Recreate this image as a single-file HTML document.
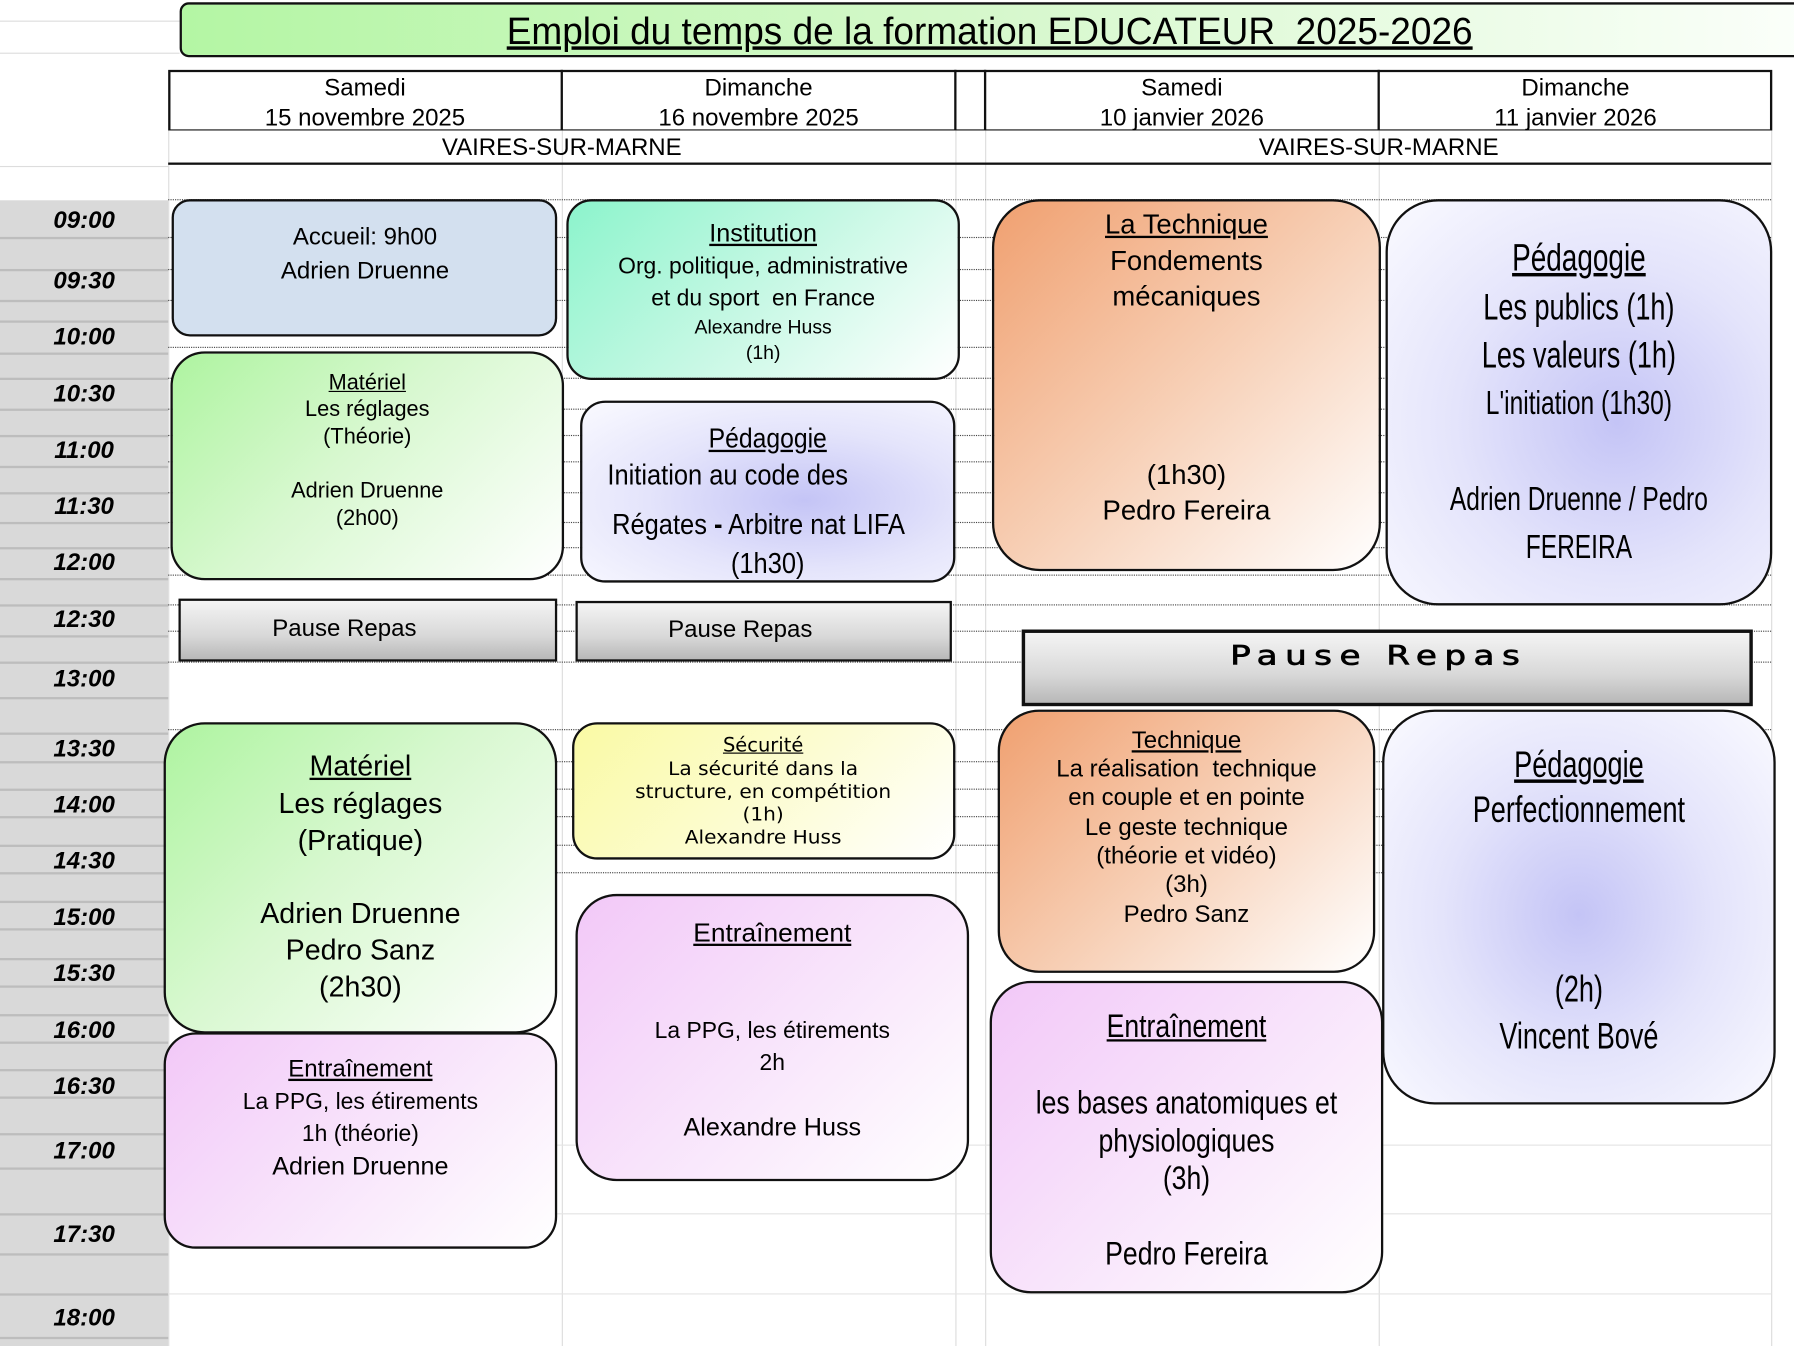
<!DOCTYPE html>
<html><head><meta charset="utf-8">
<style>
html,body{margin:0;padding:0;width:1794px;height:1346px;overflow:hidden;background:#fff;}
#w{position:absolute;left:0;top:0;width:1568px;height:1176px;transform:scale(1.14413,1.14456);transform-origin:0 0;font-family:"Liberation Sans",sans-serif;color:#000;}
.a{position:absolute;}
.b{position:absolute;border:2px solid #111;box-sizing:border-box;}
.t{position:absolute;white-space:nowrap;transform:translate(-50%,-50%);line-height:1;}
.n{transform:translate(-50%,-50%) scaleX(0.8);}
.n4{transform:translate(-50%,-50%) scaleX(0.74);}
.n3{transform:translate(-50%,-50%) scaleX(0.83);}
.n2{transform:translate(-50%,-50%) scaleX(0.89);}
.u{text-decoration:underline;}
.tm{position:absolute;left:0;width:147px;text-align:center;font-weight:bold;font-style:italic;font-size:21px;transform:translateY(-50%);}
.hl{position:absolute;left:0;width:147px;height:2px;background:#bdbdbd;}
.dl{position:absolute;left:147px;width:1401px;border-top:1px dotted #444;}
.vl{position:absolute;top:62px;width:1px;background:#ddd;height:1114px;}
.green{background:linear-gradient(135deg,#aef4a0 0%,#d8f8d0 45%,#fff 100%);}
.purple{background:linear-gradient(135deg,#f2c8f8 0%,#f8e4fb 50%,#fff 100%);}
.orange{background:linear-gradient(135deg,#f0a070 0%,#f7cfb5 50%,#fff 100%);}
.lav{background:radial-gradient(ellipse at 60% 55%,#c4c4f6 0%,#e4e4fb 50%,#fafaff 100%);}
.gray{background:linear-gradient(180deg,#f4f4f4 0%,#d8d8d8 60%,#b8b8b8 100%);}
</style></head><body><div id="w">

<div class="a" style="left:0;top:175px;width:147px;height:1001px;background:#d9d9d9"></div>
<div class="vl" style="left:147px"></div><div class="vl" style="left:491px"></div><div class="vl" style="left:835px"></div><div class="vl" style="left:861px"></div><div class="vl" style="left:1205px"></div><div class="vl" style="left:1548px"></div>
<div class="a" style="left:0;top:18px;width:157px;height:1px;background:#ddd"></div>
<div class="a" style="left:0;top:46px;width:157px;height:1px;background:#ddd"></div>
<div class="a" style="left:0;top:145px;width:147px;height:1px;background:#ddd"></div>

<div class="hl" style="top:207px"></div><div class="hl" style="top:235px"></div><div class="hl" style="top:262px"></div><div class="hl" style="top:280px"></div><div class="hl" style="top:308px"></div><div class="hl" style="top:330px"></div><div class="hl" style="top:357px"></div><div class="hl" style="top:380px"></div><div class="hl" style="top:407px"></div><div class="hl" style="top:430px"></div><div class="hl" style="top:456px"></div><div class="hl" style="top:478px"></div><div class="hl" style="top:505px"></div><div class="hl" style="top:528px"></div><div class="hl" style="top:555px"></div><div class="hl" style="top:578px"></div><div class="hl" style="top:609px"></div><div class="hl" style="top:640px"></div><div class="hl" style="top:665px"></div><div class="hl" style="top:689px"></div><div class="hl" style="top:713px"></div><div class="hl" style="top:738px"></div><div class="hl" style="top:762px"></div><div class="hl" style="top:787px"></div><div class="hl" style="top:811px"></div><div class="hl" style="top:837px"></div><div class="hl" style="top:861px"></div><div class="hl" style="top:886px"></div><div class="hl" style="top:910px"></div><div class="hl" style="top:934px"></div><div class="hl" style="top:958px"></div><div class="hl" style="top:990px"></div><div class="hl" style="top:1020px"></div><div class="hl" style="top:1060px"></div><div class="hl" style="top:1095px"></div><div class="hl" style="top:1130px"></div><div class="hl" style="top:1168px"></div>

<div class="dl" style="top:174px"></div><div class="dl" style="top:207px"></div><div class="dl" style="top:235px"></div><div class="dl" style="top:262px"></div><div class="dl" style="top:303px"></div><div class="dl" style="top:330px"></div><div class="dl" style="top:357px"></div><div class="dl" style="top:380px"></div><div class="dl" style="top:403px"></div><div class="dl" style="top:430px"></div><div class="dl" style="top:456px"></div><div class="dl" style="top:478px"></div><div class="dl" style="top:502px"></div><div class="dl" style="top:528px"></div><div class="dl" style="top:551px"></div><div class="dl" style="top:578px"></div><div class="dl" style="top:637px"></div><div class="dl" style="top:665px"></div><div class="dl" style="top:689px"></div><div class="dl" style="top:713px"></div><div class="dl" style="top:738px"></div><div class="dl" style="top:762px"></div>
<div class="a" style="left:147px;top:1000px;width:1401px;height:1px;background:#e4e4e4"></div>
<div class="a" style="left:147px;top:1060px;width:1401px;height:1px;background:#e4e4e4"></div>
<div class="a" style="left:147px;top:1130px;width:1401px;height:1px;background:#e4e4e4"></div>

<div class="tm" style="top:193px">09:00</div><div class="tm" style="top:246px">09:30</div><div class="tm" style="top:295px">10:00</div><div class="tm" style="top:345px">10:30</div><div class="tm" style="top:394px">11:00</div><div class="tm" style="top:443px">11:30</div><div class="tm" style="top:492px">12:00</div><div class="tm" style="top:542px">12:30</div><div class="tm" style="top:594px">13:00</div><div class="tm" style="top:655px">13:30</div><div class="tm" style="top:704px">14:00</div><div class="tm" style="top:753px">14:30</div><div class="tm" style="top:802px">15:00</div><div class="tm" style="top:851px">15:30</div><div class="tm" style="top:901px">16:00</div><div class="tm" style="top:950px">16:30</div><div class="tm" style="top:1006px">17:00</div><div class="tm" style="top:1079px">17:30</div><div class="tm" style="top:1152px">18:00</div>

<div class="a" style="left:157px;top:2px;width:1420px;height:48px;border:2px solid #111;border-radius:8px 0 0 8px;box-sizing:border-box;background:linear-gradient(90deg,#b4f6a4 0%,#d6f8cc 50%,#fbfffa 100%)"></div>
<div class="t u" style="left:865px;top:27px;font-size:33px;transform:translate(-50%,-50%) scaleX(0.98)">Emploi du temps de la formation EDUCATEUR&nbsp; 2025-2026</div>

<div class="a" style="left:147px;top:61px;width:1402px;height:53px;border:2px solid #111;box-sizing:border-box;border-bottom-width:1px"></div>
<div class="a" style="left:490px;top:61px;width:2px;height:53px;background:#111"></div>
<div class="a" style="left:834px;top:61px;width:2px;height:53px;background:#111"></div>
<div class="a" style="left:860px;top:61px;width:2px;height:53px;background:#111"></div>
<div class="a" style="left:1204px;top:61px;width:2px;height:53px;background:#111"></div>
<div class="a" style="left:147px;top:142px;width:1401px;height:2px;background:#111"></div>
<div class="t" style="left:319px;top:77px;font-size:21px">Samedi</div><div class="t" style="left:319px;top:103px;font-size:21px">15 novembre 2025</div>
<div class="t" style="left:663px;top:77px;font-size:21px">Dimanche</div><div class="t" style="left:663px;top:103px;font-size:21px">16 novembre 2025</div>
<div class="t" style="left:1033px;top:77px;font-size:21px">Samedi</div><div class="t" style="left:1033px;top:103px;font-size:21px">10 janvier 2026</div>
<div class="t" style="left:1377px;top:77px;font-size:21px">Dimanche</div><div class="t" style="left:1377px;top:103px;font-size:21px">11 janvier 2026</div>
<div class="t" style="left:491px;top:129px;font-size:21px">VAIRES-SUR-MARNE</div>
<div class="t" style="left:1205px;top:129px;font-size:21px">VAIRES-SUR-MARNE</div>

<div class="b" style="left:150px;top:174px;width:337px;height:120px;border-radius:16px;background:#d3e0ef"></div>
<div class="t" style="left:319px;top:207px;font-size:21px">Accueil: 9h00</div>
<div class="t" style="left:319px;top:237px;font-size:21px">Adrien Druenne</div>

<div class="b green" style="left:149px;top:307px;width:344px;height:200px;border-radius:30px"></div>
<div class="t u" style="left:321px;top:335px;font-size:19px">Matériel</div>
<div class="t" style="left:321px;top:358px;font-size:19px">Les réglages</div>
<div class="t" style="left:321px;top:382px;font-size:19px">(Théorie)</div>
<div class="t" style="left:321px;top:429px;font-size:19px">Adrien Druenne</div>
<div class="t" style="left:321px;top:453px;font-size:19px">(2h00)</div>

<div class="b gray" style="left:156px;top:523px;width:331px;height:55px"></div>
<div class="t" style="left:301px;top:549px;font-size:21px">Pause Repas</div>

<div class="b green" style="left:143px;top:631px;width:344px;height:272px;border-radius:36px"></div>
<div class="t u" style="left:315px;top:670px;font-size:25px">Matériel</div>
<div class="t" style="left:315px;top:703px;font-size:25px">Les réglages</div>
<div class="t" style="left:315px;top:735px;font-size:25px">(Pratique)</div>
<div class="t" style="left:315px;top:799px;font-size:25px">Adrien Druenne</div>
<div class="t" style="left:315px;top:831px;font-size:25px">Pedro Sanz</div>
<div class="t" style="left:315px;top:863px;font-size:25px">(2h30)</div>

<div class="b purple" style="left:143px;top:902px;width:344px;height:189px;border-radius:28px"></div>
<div class="t u" style="left:315px;top:934px;font-size:21px">Entraînement</div>
<div class="t" style="left:315px;top:963px;font-size:20px">La PPG, les étirements</div>
<div class="t" style="left:315px;top:991px;font-size:20px">1h (théorie)</div>
<div class="t" style="left:315px;top:1019px;font-size:22px">Adrien Druenne</div>

<div class="b" style="left:495px;top:174px;width:344px;height:158px;border-radius:22px;background:linear-gradient(135deg,#8cf4cc 0%,#c6f8e4 50%,#fff 100%)"></div>
<div class="t u" style="left:667px;top:204px;font-size:22px">Institution</div>
<div class="t" style="left:667px;top:233px;font-size:20px">Org. politique, administrative</div>
<div class="t" style="left:667px;top:261px;font-size:20px">et du sport&nbsp; en France</div>
<div class="t" style="left:667px;top:286px;font-size:17px">Alexandre Huss</div>
<div class="t" style="left:667px;top:308px;font-size:17px">(1h)</div>

<div class="b lav" style="left:507px;top:350px;width:328px;height:159px;border-radius:22px"></div>
<div class="t u" style="left:671px;top:384px;font-size:24px;transform:translate(-50%,-50%) scaleX(0.9)">Pédagogie</div>
<div class="t n2" style="left:636px;top:416px;font-size:25px">Initiation au code des</div>
<div class="t n2" style="left:663px;top:459px;font-size:25px">Régates <b>-</b> Arbitre nat LIFA</div>
<div class="t n2" style="left:671px;top:493px;font-size:25px">(1h30)</div>

<div class="b gray" style="left:503px;top:525px;width:329px;height:53px"></div>
<div class="t" style="left:647px;top:550px;font-size:21px">Pause Repas</div>

<div class="b" style="left:500px;top:631px;width:335px;height:120px;border-radius:22px;background:linear-gradient(135deg,#fafaa4 0%,#fcfcd0 50%,#fff 100%)"></div>
<div class="t u" style="left:667px;top:652px;font-size:17px;font-family:'DejaVu Sans',sans-serif">Sécurité</div>
<div class="t" style="left:667px;top:672px;font-size:16px;font-family:'DejaVu Sans',sans-serif;transform:translate(-50%,-50%) scaleX(1.1)">La sécurité dans la</div>
<div class="t" style="left:667px;top:692px;font-size:16px;font-family:'DejaVu Sans',sans-serif;transform:translate(-50%,-50%) scaleX(1.1)">structure, en compétition</div>
<div class="t" style="left:667px;top:712px;font-size:16px;font-family:'DejaVu Sans',sans-serif;transform:translate(-50%,-50%) scaleX(1.1)">(1h)</div>
<div class="t" style="left:667px;top:732px;font-size:16px;font-family:'DejaVu Sans',sans-serif;transform:translate(-50%,-50%) scaleX(1.1)">Alexandre Huss</div>

<div class="b purple" style="left:503px;top:781px;width:344px;height:251px;border-radius:36px"></div>
<div class="t u" style="left:675px;top:815px;font-size:23px">Entraînement</div>
<div class="t" style="left:675px;top:901px;font-size:20px">La PPG, les étirements</div>
<div class="t" style="left:675px;top:929px;font-size:20px">2h</div>
<div class="t" style="left:675px;top:985px;font-size:22px">Alexandre Huss</div>

<div class="b orange" style="left:867px;top:174px;width:340px;height:325px;border-radius:42px"></div>
<div class="t u" style="left:1037px;top:197px;font-size:24px">La Technique</div>
<div class="t" style="left:1037px;top:229px;font-size:24px">Fondements</div>
<div class="t" style="left:1037px;top:260px;font-size:24px">mécaniques</div>
<div class="t" style="left:1037px;top:416px;font-size:24px">(1h30)</div>
<div class="t" style="left:1037px;top:447px;font-size:24px">Pedro Fereira</div>

<div class="b gray" style="left:893px;top:550px;width:639px;height:67px;border-width:3px"></div>
<div class="t" style="left:1205px;top:574px;font-size:23px;letter-spacing:5px;font-family:'DejaVu Sans',sans-serif;-webkit-text-stroke:0.6px #000;transform:translate(-50%,-50%) scaleX(1.3)">Pause Repas</div>

<div class="b orange" style="left:872px;top:620px;width:330px;height:230px;border-radius:36px"></div>
<div class="t u" style="left:1037px;top:647px;font-size:21px">Technique</div>
<div class="t" style="left:1037px;top:672px;font-size:21px">La réalisation&nbsp; technique</div>
<div class="t" style="left:1037px;top:697px;font-size:21px">en couple et en pointe</div>
<div class="t" style="left:1037px;top:723px;font-size:21px">Le geste technique</div>
<div class="t" style="left:1037px;top:748px;font-size:21px">(théorie et vidéo)</div>
<div class="t" style="left:1037px;top:773px;font-size:21px">(3h)</div>
<div class="t" style="left:1037px;top:799px;font-size:21px">Pedro Sanz</div>

<div class="b purple" style="left:865px;top:857px;width:344px;height:273px;border-radius:36px"></div>
<div class="t u n3" style="left:1037px;top:897px;font-size:28px">Entraînement</div>
<div class="t n3" style="left:1037px;top:964px;font-size:28px">les bases anatomiques et</div>
<div class="t n3" style="left:1037px;top:997px;font-size:28px">physiologiques</div>
<div class="t n3" style="left:1037px;top:1030px;font-size:28px">(3h)</div>
<div class="t n3" style="left:1037px;top:1096px;font-size:28px">Pedro Fereira</div>

<div class="b lav" style="left:1211px;top:174px;width:338px;height:355px;border-radius:46px"></div>
<div class="t u n4" style="left:1380px;top:225px;font-size:33px">Pédagogie</div>
<div class="t n4" style="left:1380px;top:268px;font-size:32px">Les publics (1h)</div>
<div class="t n4" style="left:1380px;top:310px;font-size:32px">Les valeurs (1h)</div>
<div class="t n4" style="left:1380px;top:353px;font-size:29px">L'initiation (1h30)</div>
<div class="t n4" style="left:1380px;top:437px;font-size:29px">Adrien Druenne / Pedro</div>
<div class="t n4" style="left:1380px;top:479px;font-size:29px">FEREIRA</div>

<div class="b lav" style="left:1208px;top:620px;width:344px;height:345px;border-radius:46px;background:radial-gradient(ellipse at 50% 52%,#c4c4f6 0%,#e4e4fb 50%,#fafaff 100%)"></div>
<div class="t u n4" style="left:1380px;top:668px;font-size:32px">Pédagogie</div>
<div class="t n4" style="left:1380px;top:707px;font-size:32px">Perfectionnement</div>
<div class="t n4" style="left:1380px;top:864px;font-size:32px">(2h)</div>
<div class="t n4" style="left:1380px;top:905px;font-size:32px">Vincent Bové</div>

</div></body></html>
